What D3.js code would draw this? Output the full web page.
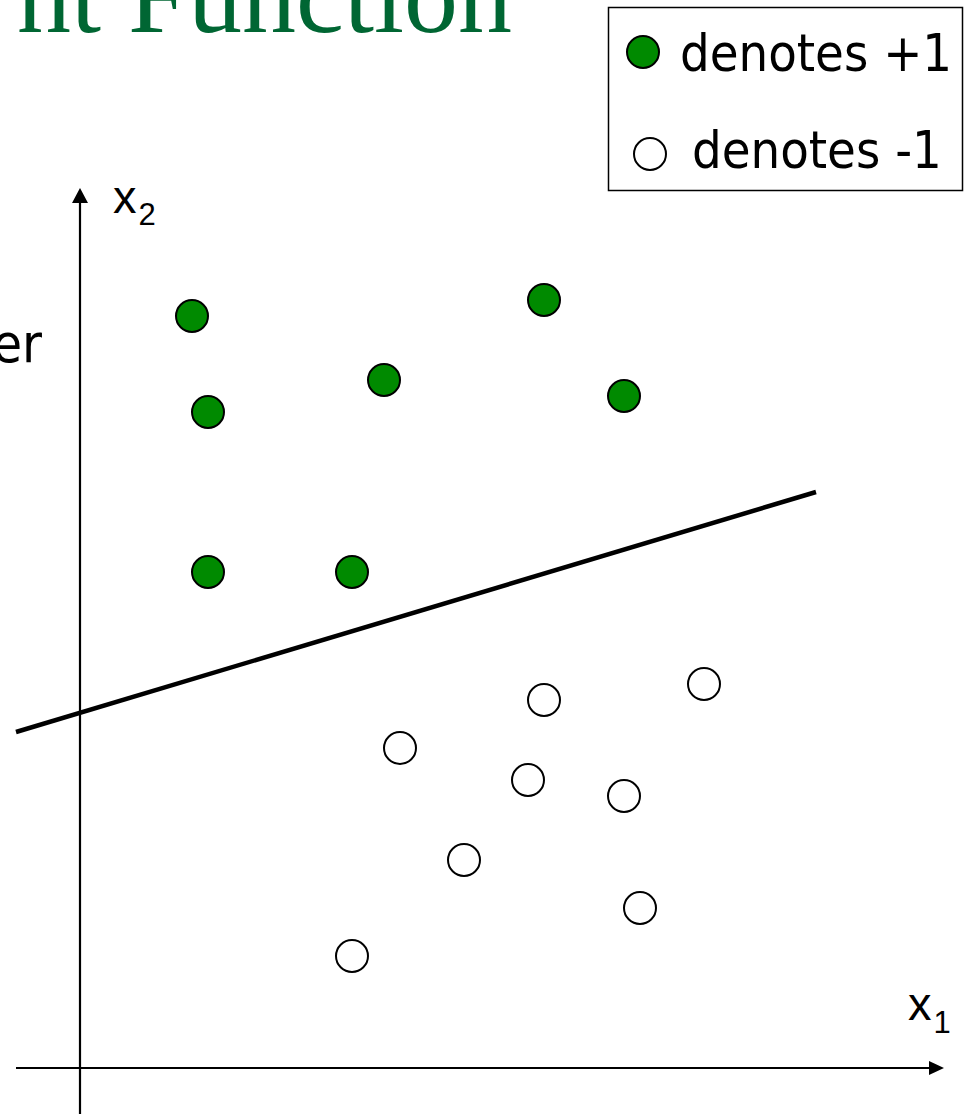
<!DOCTYPE html>
<html><head><meta charset="utf-8">
<script src="https://cdn.jsdelivr.net/npm/d3@7"></script>
<style>html,body{margin:0;padding:0;background:#fff;overflow:hidden}</style>
</head><body>
<script>
// Data (arbitrary feature units)
const posX = [14, 58, 38, 16, 68, 16, 34];
const posY = [94, 96, 86, 82, 84, 62, 62];
const negX = [58, 78, 40, 56, 68, 48, 70, 34];
const negY = [46, 48, 40, 36, 34, 26, 20, 14];
const boundaryX = [-8, 92];
const boundaryY = [42, 72];
const axisXExtent = [-8, 108];
const axisYExtent = [-6, 110];
const legendLabels = ["denotes +1", "denotes -1"];

const W = 970, H = 1114;
const svg = d3.select("body").append("svg").attr("width", W).attr("height", H);

const x = d3.scaleLinear().domain([0, 100]).range([80, 880]);
const y = d3.scaleLinear().domain([0, 100]).range([1068, 268]);

// title fragment
svg.append("text").attr("x", 512).attr("y", 32).attr("text-anchor", "end")
  .attr("font-family", "'Liberation Serif', serif").attr("font-size", 108)
  .attr("fill", "#006633").text("nt Function");

// left text fragment
svg.append("text").attr("x", 42).attr("y", 362).attr("text-anchor", "end")
  .attr("font-family", "'DejaVu Sans Condensed','DejaVu Sans',sans-serif").attr("font-size", 54)
  .attr("fill", "#000").text("er");

// axes
svg.append("line").attr("x1", x(axisXExtent[0])).attr("x2", x(axisXExtent[1]) - 12)
  .attr("y1", y(0)).attr("y2", y(0)).attr("stroke", "#000").attr("stroke-width", 2.2);
svg.append("line").attr("x1", x(0)).attr("x2", x(0))
  .attr("y1", y(axisYExtent[0])).attr("y2", y(axisYExtent[1]) + 12).attr("stroke", "#000").attr("stroke-width", 2.2);
// arrowheads
const ax = x(axisXExtent[1]), ay = y(0);
svg.append("path").attr("d", `M${ax},${ay} L${ax-15},${ay-7} L${ax-15},${ay+7} Z`).attr("fill", "#000");
const bx = x(0), by = y(axisYExtent[1]);
svg.append("path").attr("d", `M${bx},${by} L${bx-8},${by+15} L${bx+8},${by+15} Z`).attr("fill", "#000");

// axis labels
const lab = (px, py, main, sub, subDx, subDy) => {
  const t = svg.append("text").attr("x", px).attr("y", py)
    .attr("font-family", "'Liberation Sans', Arial, sans-serif").attr("font-size", 47).attr("fill", "#000");
  t.append("tspan").text(main);
  t.append("tspan").attr("font-size", 31).attr("dy", subDy).attr("dx", subDx).text(sub);
};
lab(908, 1020, "x", "1", 2, 13);
lab(113, 213, "x", "2", 2, 12);

// decision boundary
svg.append("line")
  .attr("x1", x(boundaryX[0])).attr("y1", y(boundaryY[0]))
  .attr("x2", x(boundaryX[1])).attr("y2", y(boundaryY[1]))
  .attr("stroke", "#000").attr("stroke-width", 4.5);

// points
const R = 16;
svg.selectAll("circle.pos").data(posX.map((v, i) => [v, posY[i]])).join("circle")
  .attr("class", "pos").attr("cx", d => x(d[0])).attr("cy", d => y(d[1])).attr("r", R)
  .attr("fill", "#008A00").attr("stroke", "#000").attr("stroke-width", 2);
svg.selectAll("circle.neg").data(negX.map((v, i) => [v, negY[i]])).join("circle")
  .attr("class", "neg").attr("cx", d => x(d[0])).attr("cy", d => y(d[1])).attr("r", R)
  .attr("fill", "#fff").attr("stroke", "#000").attr("stroke-width", 2);

// legend
const lg = svg.append("g");
lg.append("rect").attr("x", 608.5).attr("y", 7.5).attr("width", 354).attr("height", 183)
  .attr("fill", "#fff").attr("stroke", "#000").attr("stroke-width", 1.5);
lg.append("circle").attr("cx", 643).attr("cy", 52).attr("r", R).attr("fill", "#008A00").attr("stroke", "#000").attr("stroke-width", 2);
lg.append("circle").attr("cx", 650).attr("cy", 154).attr("r", R).attr("fill", "#fff").attr("stroke", "#000").attr("stroke-width", 2);
lg.append("text").attr("x", 680).attr("y", 71).attr("font-family", "'DejaVu Sans Condensed','DejaVu Sans',sans-serif")
  .attr("font-size", 52).attr("fill", "#000").text(legendLabels[0]);
lg.append("text").attr("x", 692).attr("y", 168).attr("font-family", "'DejaVu Sans Condensed','DejaVu Sans',sans-serif")
  .attr("font-size", 52).attr("fill", "#000").text(legendLabels[1]);
</script>
</body></html>
